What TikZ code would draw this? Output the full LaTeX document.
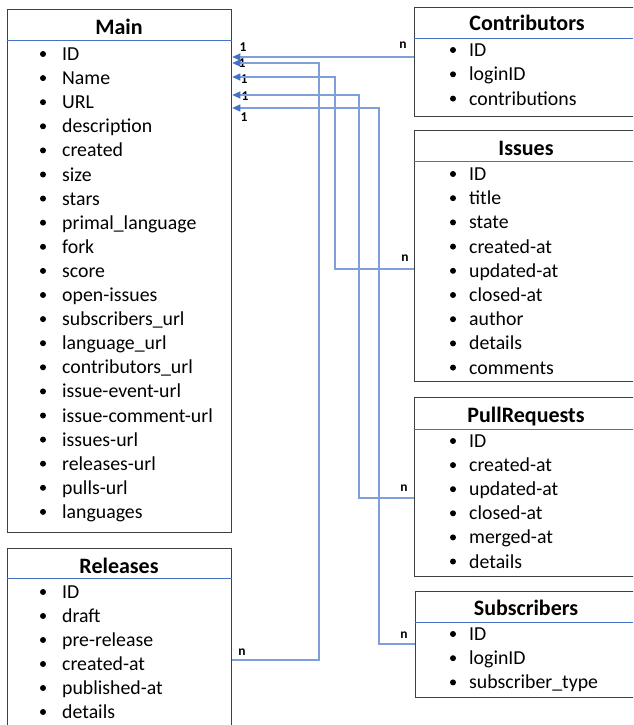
\documentclass[tikz,border=0pt]{standalone}
\usepackage{fontspec}
\setmainfont{Carlito}
\usetikzlibrary{arrows.meta}
\definecolor{boxline}{HTML}{404040}
\definecolor{hdrline}{HTML}{4472C4}
\definecolor{connline}{HTML}{7F9FDA}
\definecolor{tipcol}{HTML}{4472C4}
\tikzset{
  tbl/.style={draw=boxline, line width=1.3pt, anchor=north west, inner sep=0pt},
  hdr/.style={draw=hdrline, line width=0.9pt},
  ttl/.style={font=\fontsize{22}{24}\selectfont\bfseries, anchor=base, inner sep=0pt},
  item/.style={font=\fontsize{19.8}{21}\selectfont, anchor=base west, inner sep=0pt},
  bul/.style={circle, fill=black, inner sep=0pt, minimum size=6pt},
  conn/.style={draw=connline, line width=1.3pt},
  arr/.style={conn, -{Triangle[length=8pt,width=7pt,fill=tipcol,color=tipcol]}},
  card/.style={font=\fontsize{13.5}{14}\selectfont\bfseries, inner sep=0pt}
}
\begin{document}
\begin{tikzpicture}[x=1pt,y=-1pt]
\useasboundingbox (0,0) rectangle (633,725);
\clip (0,0) rectangle (633,725);
% boxes
\node[tbl, minimum width=224pt, minimum height=523pt] (main) at (7,9) {};
\node[tbl, minimum width=224pt, minimum height=185pt] (rel) at (7,548) {};
\node[tbl, minimum width=225pt, minimum height=109pt] (con) at (414,7) {};
\node[tbl, minimum width=225pt, minimum height=251pt] (iss) at (414,130) {};
\node[tbl, minimum width=225pt, minimum height=179pt] (pr) at (414,397) {};
\node[tbl, minimum width=224pt, minimum height=106pt] (sub) at (415,591) {};
% header lines
\coordinate (h1) at (0,40);
\coordinate (h2) at (0,578);
\coordinate (h3) at (0,38);
\coordinate (h4) at (0,161);
\coordinate (h5) at (0,429);
\coordinate (h6) at (0,622);
\draw[hdr] (main.west |- h1) -- (main.east |- h1);
\draw[hdr] (rel.west |- h2) -- (rel.east |- h2);
\draw[hdr] (con.west |- h3) -- (con.east |- h3);
\draw[hdr] (iss.west |- h4) -- (iss.east |- h4);
\draw[hdr] (pr.west |- h5) -- (pr.east |- h5);
\draw[hdr] (sub.west |- h6) -- (sub.east |- h6);
% titles
\node[ttl] (tmain) at (119,35) {Main};
\node[ttl] (trel) at (119,573) {Releases};
\node[ttl] (tcon) at (527,31) {Contributors};
\node[ttl] (tiss) at (526,155) {Issues};
\node[ttl] (tpr) at (526,422) {PullRequests};
\node[ttl] (tsub) at (526,615) {Subscribers};
% items
\foreach \t [count=\i] in {ID,Name,URL,description,created,size,stars,primal\_language,fork,score,open-issues,subscribers\_url,language\_url,contributors\_url,issue-event-url,issue-comment-url,issues-url,releases-url,pulls-url,languages}{
  \node[bul] (mb\i) at (43,{54+24.1*(\i-1)}) {};
  \node[item] (mt\i) at (62,{60.5+24.1*(\i-1)}) {\t};
}
\foreach \t [count=\i] in {ID,draft,pre-release,created-at,published-at,details}{
  \node[bul] (rb\i) at (43,{592+24*(\i-1)}) {};
  \node[item] (rt\i) at (62,{598.5+24*(\i-1)}) {\t};
}
\foreach \t [count=\i] in {ID,loginID,contributions}{
  \node[bul] (cb\i) at (453,{50+24.3*(\i-1)}) {};
  \node[item] (ct\i) at (469,{56.5+24.3*(\i-1)}) {\t};
}
\foreach \t [count=\i] in {ID,title,state,created-at,updated-at,closed-at,author,details,comments}{
  \node[bul] (ib\i) at (453,{174+24.2*(\i-1)}) {};
  \node[item] (it\i) at (469,{180.5+24.2*(\i-1)}) {\t};
}
\foreach \t [count=\i] in {ID,created-at,updated-at,closed-at,merged-at,details}{
  \node[bul] (pb\i) at (453,{441+24.1*(\i-1)}) {};
  \node[item] (pt\i) at (469,{447.5+24.1*(\i-1)}) {\t};
}
\foreach \t [count=\i] in {ID,loginID,subscriber\_type}{
  \node[bul] (sb\i) at (453,{634+24.2*(\i-1)}) {};
  \node[item] (st\i) at (469,{640.5+24.2*(\i-1)}) {\t};
}
% connector bends
\coordinate (k1) at (0,57);
\coordinate (k2) at (319,63);
\coordinate (k3) at (335,77);
\coordinate (k4) at (359,95);
\coordinate (k5) at (379,108);
\coordinate (r2) at (0,660);
\coordinate (r3) at (0,269);
\coordinate (r4) at (0,498);
\coordinate (r5) at (0,644);
% cardinality labels
\node[card] (o1) at (243,47) {1};
\node[card] (o2) at (242,63) {1};
\node[card] (o3) at (244,79) {1};
\node[card] (o4) at (245,96) {1};
\node[card] (o5) at (244,117) {1};
\node[card] (n1) at (403,45) {n};
\node[card] (n2) at (242,652) {n};
\node[card] (n3) at (405,258) {n};
\node[card] (n4) at (404,488) {n};
\node[card] (n5) at (404,635) {n};
% connectors
\draw[arr] (con.west |- k1) -- (main.east |- k1);
\draw[arr] (rel.east |- r2) -| (k2) -- (main.east |- k2);
\draw[arr] (iss.west |- r3) -| (k3) -- (main.east |- k3);
\draw[arr] (pr.west |- r4) -| (k4) -- (main.east |- k4);
\draw[arr] (sub.west |- r5) -| (k5) -- (main.east |- k5);
\end{tikzpicture}
\end{document}
